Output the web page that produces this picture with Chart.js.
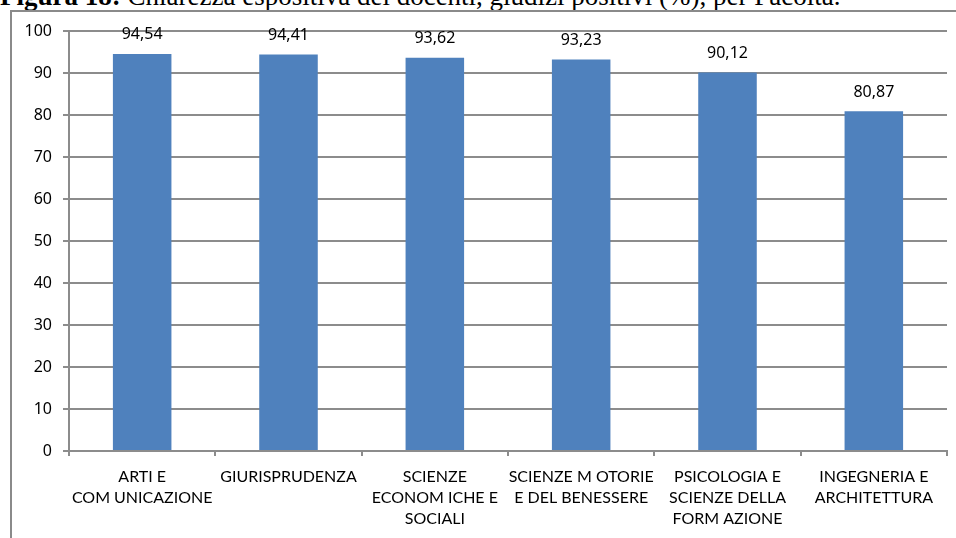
<!DOCTYPE html>
<html lang="it">
<head>
    <meta charset="UTF-8">
    <title>Chiarezza espositiva dei docenti</title>
    <script src="https://cdn.jsdelivr.net/npm/chart.js@4.4.1/dist/chart.umd.min.js"></script>
    <style>
        html, body { margin: 0; padding: 0; background: #fff; }
        body { width: 956px; height: 538px; position: relative; overflow: hidden; }
        /* titolo tagliato in alto, come nel documento */
        #titolo {
            position: absolute; left: 0; top: -17px;
            font-family: "Liberation Serif", "Times New Roman", serif;
            font-size: 27px; line-height: 27px; color: #000; white-space: nowrap;
        }
        #cornice {
            position: absolute; left: 10px; top: 10px; width: 960px; height: 540px;
            border-left: 2px solid #8a8a8a; border-top: 2px solid #8a8a8a;
        }
        #grafico { position: absolute; left: 0; top: 0; }
    </style>
</head>
<body>
    <div id="titolo"><b>Figura 18:</b> Chiarezza espositiva dei docenti, giudizi positivi (%), per Facoltà.</div>
    <div id="cornice"></div>
    <canvas id="grafico" width="956" height="538"></canvas>

    <script>
        // dati
        const facolta = [
            ['ARTI E', 'COM UNICAZIONE'],
            'GIURISPRUDENZA',
            ['SCIENZE', 'ECONOM ICHE E', 'SOCIALI'],
            ['SCIENZE M OTORIE', 'E DEL BENESSERE'],
            ['PSICOLOGIA E', 'SCIENZE DELLA', 'FORM AZIONE'],
            ['INGEGNERIA E', 'ARCHITETTURA']
        ];
        const giudiziPositivi = [94.54, 94.41, 93.62, 93.23, 90.12, 80.87];
        const yMin = 0, yMax = 100, yStep = 10;

        const grigio = '#8c8c8c';

        // etichette sopra le barre (virgola decimale)
        const etichetteValori = {
            id: 'etichetteValori',
            afterDatasetsDraw(chart) {
                const ctx = chart.ctx;
                const meta = chart.getDatasetMeta(0);
                ctx.save();
                ctx.font = '16px "Noto Sans", sans-serif';
                ctx.fillStyle = '#000';
                ctx.textAlign = 'center';
                ctx.textBaseline = 'middle';
                meta.data.forEach((bar, i) => {
                    const testo = giudiziPositivi[i].toFixed(2).replace('.', ',');
                    ctx.fillText(testo, bar.x, bar.y - 19);
                });
                ctx.restore();
            }
        };

        new Chart(document.getElementById('grafico'), {
            type: 'bar',
            data: {
                labels: facolta,
                datasets: [{
                    data: giudiziPositivi,
                    backgroundColor: '#4f81bd',
                    borderWidth: 0,
                    barPercentage: 0.4,
                    categoryPercentage: 1
                }]
            },
            options: {
                responsive: false,
                animation: false,
                layout: { padding: { top: 31, right: 9, left: 0, bottom: 0 } },
                plugins: {
                    legend: { display: false },
                    tooltip: { enabled: false }
                },
                scales: {
                    x: {
                        afterFit(scale) { scale.height = 87; },
                        grid: {
                            offset: true,
                            drawOnChartArea: false,
                            drawTicks: true,
                            tickLength: 5,
                            color: grigio,
                            lineWidth: 2
                        },
                        border: { display: true, color: grigio, width: 2 },
                        ticks: {
                            color: '#000',
                            padding: 10,
                            maxRotation: 0,
                            autoSkip: false,
                            font: { family: 'Lato', size: 16, lineHeight: 21 / 16 }
                        }
                    },
                    y: {
                        min: yMin,
                        max: yMax,
                        afterFit(scale) { scale.width = 69; },
                        grid: {
                            color: grigio,
                            lineWidth: 2,
                            tickLength: 6
                        },
                        border: { display: true, color: grigio, width: 2 },
                        ticks: {
                            stepSize: yStep,
                            color: '#000',
                            padding: 11,
                            font: { family: '"Noto Sans"', size: 16 }
                        }
                    }
                }
            },
            plugins: [etichetteValori]
        });
    </script>
</body>
</html>
